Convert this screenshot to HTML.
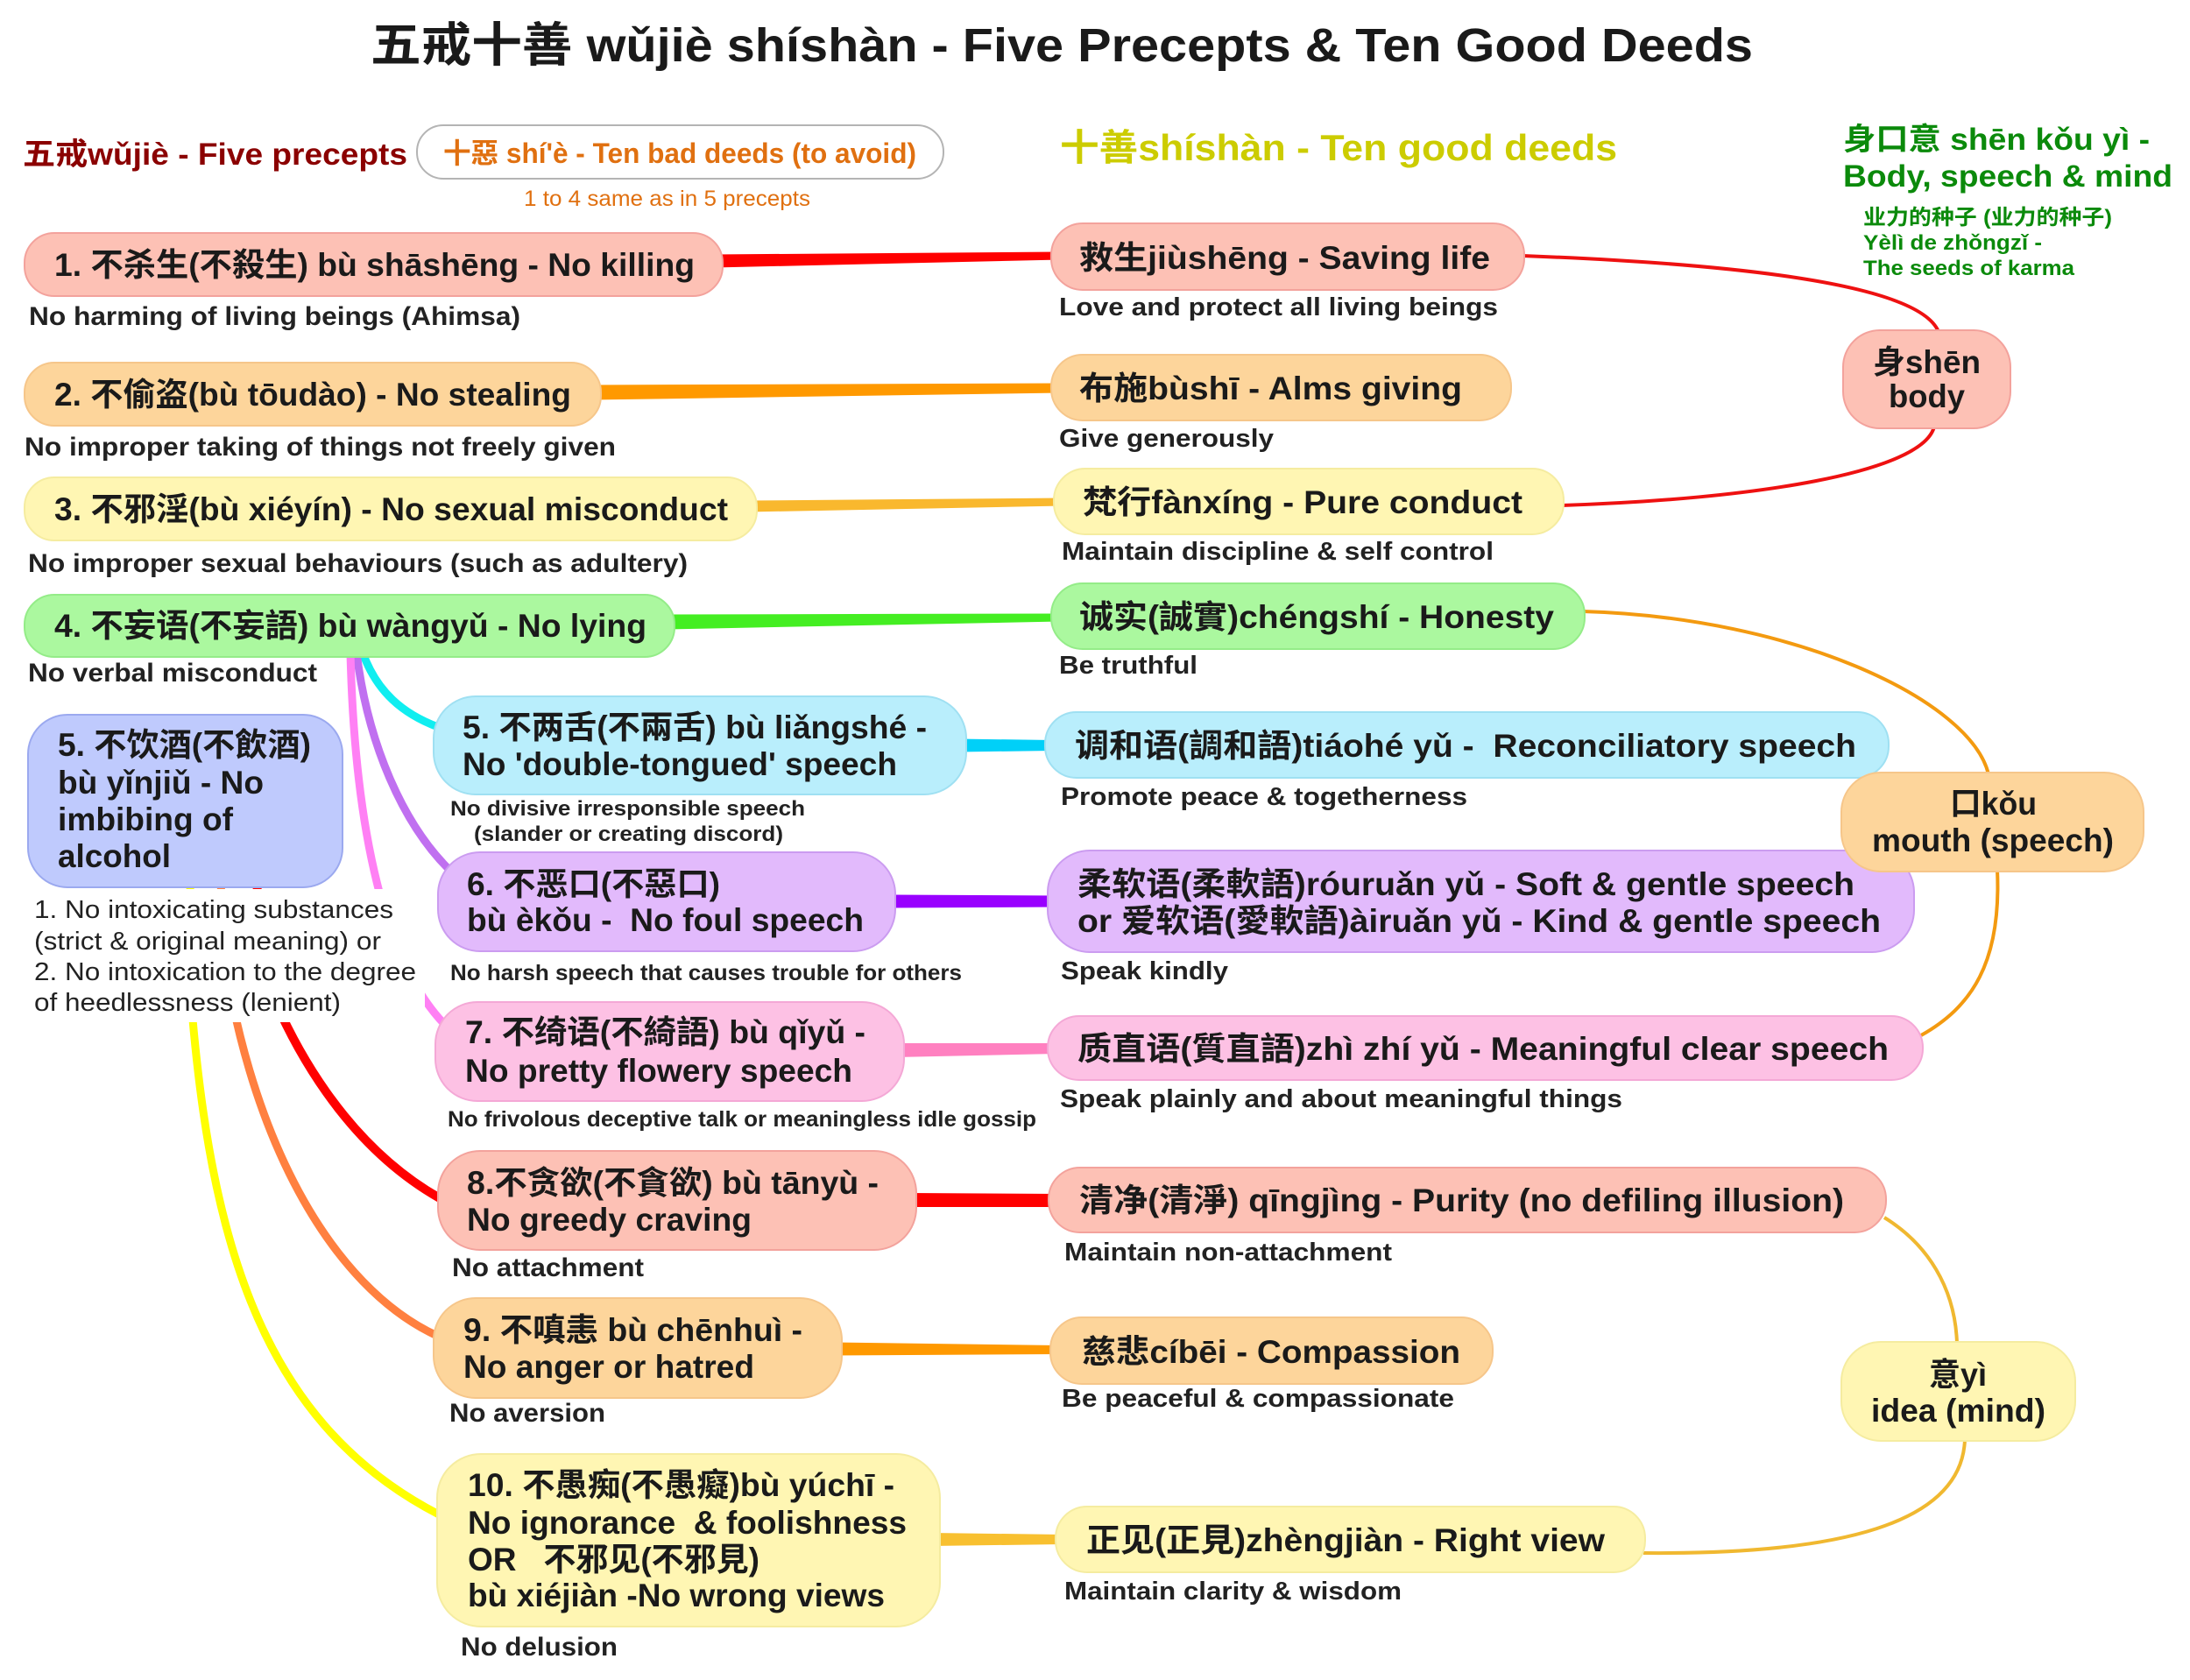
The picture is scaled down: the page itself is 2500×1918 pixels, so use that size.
<!DOCTYPE html>
<html><head><meta charset="utf-8"><style>
html,body{margin:0;padding:0;background:#fff;}
svg{display:block;}
text{font-family:"Liberation Sans","Noto Sans CJK SC",sans-serif;white-space:pre;}
.n{fill:#1a1a1a;font-weight:bold;font-size:37px;}
.d{fill:#222;font-weight:bold;font-size:30px;}
.s{fill:#222;font-weight:bold;font-size:25px;}
.g{fill:#0b8a0b;font-weight:bold;}
</style></head><body>
<svg width="2500" height="1918" viewBox="0 0 2500 1918" xmlns="http://www.w3.org/2000/svg">
<rect width="2500" height="1918" fill="#fff"/>

<!-- curved branches from node 4 -->
<g fill="none" stroke-linecap="round">
<path d="M414,745 C430,790 460,815 500,830" stroke="#10eef0" stroke-width="9"/>
<path d="M407,745 C420,850 460,940 512,992" stroke="#c070f0" stroke-width="9"/>
<path d="M400,745 C405,950 440,1100 508,1170" stroke="#ff80f4" stroke-width="9"/>
<path d="M300,900 L290,1080 C330,1200 400,1310 502,1368" stroke="#ff0000" stroke-width="10"/>
<path d="M260,900 L250,1050 C280,1300 380,1470 499,1525" stroke="#ff8040" stroke-width="9"/>
<path d="M220,900 L215,1100 C235,1400 290,1620 501,1729" stroke="#ffff00" stroke-width="9"/>
</g>

<!-- right thin curves -->
<g fill="none" stroke-width="4">
<path d="M1738,292 C1950,300 2190,320 2213,379" stroke="#ee1111"/>
<path d="M1783,577 C2000,570 2195,540 2208,487" stroke="#ee1111"/>
<path d="M1807,698 C2050,705 2250,800 2270,884" stroke="#f39a10"/>
<path d="M2280,993 C2285,1100 2250,1150 2193,1182" stroke="#f39a10"/>
<path d="M2151,1390 C2200,1420 2232,1470 2234,1534" stroke="#f0b830"/>
<path d="M2243,1643 C2240,1740 2100,1775 1876,1773" stroke="#f0b830"/>
</g>

<!-- straight tapered connectors -->
<polygon points="815,290.5 1210,287.5 1210,296.5 815,305.5" fill="#ff0000"/>
<polygon points="676,439.5 1210,437.5 1210,448.5 676,456.5" fill="#ff9900"/>
<polygon points="854,571.5 1213,568.5 1213,577.5 854,584.5" fill="#f9b82e"/>
<polygon points="760,701.5 1210,700.5 1210,709.5 760,718.5" fill="#44ee22"/>
<polygon points="1093,843.5 1203,845 1203,857 1093,858.5" fill="#00d0f8"/>
<polygon points="1012,1021.5 1206,1022.5 1206,1035.5 1012,1036.5" fill="#9900ff"/>
<polygon points="1022,1191 1206,1191 1206,1203 1022,1207" fill="#ff80c0"/>
<polygon points="1036,1362 1207,1363 1207,1378 1036,1378" fill="#ff0000"/>
<polygon points="951,1532.5 1209,1536 1209,1546 951,1547.5" fill="#ff9900"/>
<polygon points="1063,1750 1215,1752 1215,1763 1063,1765" fill="#f8c030"/>

<!-- nodes -->
<g stroke-width="2">
<rect x="28" y="266" width="797" height="72" rx="34" fill="#fdc1b5" stroke="#f3a29c"/>
<rect x="28" y="414" width="658" height="72" rx="34" fill="#fdd59b" stroke="#f6c68a"/>
<rect x="28" y="545" width="836" height="72" rx="34" fill="#fff6b3" stroke="#f5eca0"/>
<rect x="28" y="679" width="742" height="71" rx="34" fill="#abf89f" stroke="#94ec88"/>
<rect x="32" y="816" width="359" height="197" rx="45" fill="#bfcafd" stroke="#9ba9ef"/>
<rect x="495" y="795" width="608" height="112" rx="48" fill="#b9eefc" stroke="#9fe0f2"/>
<rect x="500" y="973" width="522" height="113" rx="48" fill="#e2bafc" stroke="#cb9cf0"/>
<rect x="497" y="1144" width="535" height="113" rx="48" fill="#fdc1e4" stroke="#f4a8d6"/>
<rect x="500" y="1314" width="546" height="113" rx="48" fill="#fdc1b5" stroke="#f3a29c"/>
<rect x="495" y="1482" width="466" height="114" rx="48" fill="#fdd59b" stroke="#f6c68a"/>
<rect x="499" y="1660" width="574" height="197" rx="50" fill="#fff6b3" stroke="#f5eca0"/>

<rect x="1200" y="255" width="540" height="76" rx="36" fill="#fdc1b5" stroke="#f3a29c"/>
<rect x="1200" y="405" width="525" height="75" rx="36" fill="#fdd59b" stroke="#f6c68a"/>
<rect x="1203" y="535" width="582" height="75" rx="36" fill="#fff6b3" stroke="#f5eca0"/>
<rect x="1200" y="666" width="609" height="75" rx="36" fill="#abf89f" stroke="#94ec88"/>
<rect x="1193" y="813" width="963" height="75" rx="36" fill="#b9eefc" stroke="#9fe0f2"/>
<rect x="1196" y="971" width="989" height="116" rx="48" fill="#e2bafc" stroke="#cb9cf0"/>
<rect x="1196" y="1160" width="999" height="73" rx="36" fill="#fdc1e4" stroke="#f4a8d6"/>
<rect x="1197" y="1333" width="956" height="74" rx="36" fill="#fdc1b5" stroke="#f3a29c"/>
<rect x="1199" y="1504" width="505" height="76" rx="36" fill="#fdd59b" stroke="#f6c68a"/>
<rect x="1205" y="1720" width="673" height="75" rx="36" fill="#fff6b3" stroke="#f5eca0"/>

<rect x="2104" y="377" width="191" height="112" rx="42" fill="#fdc1b5" stroke="#f3a29c"/>
<rect x="2102" y="882" width="345" height="113" rx="45" fill="#fdd59b" stroke="#f6c68a"/>
<rect x="2102" y="1532" width="267" height="113" rx="45" fill="#fff6b3" stroke="#f5eca0"/>

<rect x="476" y="143" width="601" height="61" rx="30" fill="#fff" stroke="#b4b4b4"/>
</g>

<!-- white backing for alcohol note -->
<rect x="35" y="1015" width="450" height="152" fill="#fff"/>

<!-- header -->
<text x="423" y="70" textLength="1578" lengthAdjust="spacingAndGlyphs" style="font-size:54px;font-weight:bold;fill:#1a1a1a">五戒十善 wǔjiè shíshàn - Five Precepts &amp; Ten Good Deeds</text>
<text x="26" y="188" textLength="439" lengthAdjust="spacingAndGlyphs" style="font-size:35px;font-weight:bold;fill:#8b0000">五戒wǔjiè - Five precepts</text>
<text x="506" y="186" textLength="540" lengthAdjust="spacingAndGlyphs" style="font-size:32px;font-weight:bold;fill:#e07010">十惡 shí'è - Ten bad deeds (to avoid)</text>
<text x="598" y="235" textLength="327" lengthAdjust="spacingAndGlyphs" style="font-size:25px;fill:#e07010">1 to 4 same as in 5 precepts</text>
<text x="1210" y="183" textLength="636" lengthAdjust="spacingAndGlyphs" style="font-size:42px;font-weight:bold;fill:#cccc00">十善shíshàn - Ten good deeds</text>
<text class="g" x="2104" y="171" textLength="350" lengthAdjust="spacingAndGlyphs" style="font-size:35px">身口意 shēn kǒu yì -</text>
<text class="g" x="2104" y="213" textLength="376" lengthAdjust="spacingAndGlyphs" style="font-size:35px">Body, speech &amp; mind</text>
<text class="g" x="2127" y="256" textLength="284" lengthAdjust="spacingAndGlyphs" style="font-size:24px">业力的种子 (业力的种子)</text>
<text class="g" x="2127" y="285" textLength="204" lengthAdjust="spacingAndGlyphs" style="font-size:24px">Yèlì de zhǒngzǐ -</text>
<text class="g" x="2127" y="314" textLength="241" lengthAdjust="spacingAndGlyphs" style="font-size:24px">The seeds of karma</text>

<!-- left column -->
<text class="n" x="62" y="315" textLength="731" lengthAdjust="spacingAndGlyphs">1. 不杀生(不殺生) bù shāshēng - No killing</text>
<text class="d" x="33" y="371" textLength="561" lengthAdjust="spacingAndGlyphs">No harming of living beings (Ahimsa)</text>
<text class="n" x="62" y="463" textLength="590" lengthAdjust="spacingAndGlyphs">2. 不偷盗(bù tōudào) - No stealing</text>
<text class="d" x="28" y="520" textLength="675" lengthAdjust="spacingAndGlyphs">No improper taking of things not freely given</text>
<text class="n" x="62" y="594" textLength="769" lengthAdjust="spacingAndGlyphs">3. 不邪淫(bù xiéyín) - No sexual misconduct</text>
<text class="d" x="32" y="653" textLength="753" lengthAdjust="spacingAndGlyphs">No improper sexual behaviours (such as adultery)</text>
<text class="n" x="62" y="727" textLength="676" lengthAdjust="spacingAndGlyphs">4. 不妄语(不妄語) bù wàngyǔ - No lying</text>
<text class="d" x="32" y="778" textLength="330" lengthAdjust="spacingAndGlyphs">No verbal misconduct</text>

<text class="n" x="66" y="863" textLength="289" lengthAdjust="spacingAndGlyphs">5. 不饮酒(不飲酒)</text>
<text class="n" x="66" y="906" textLength="235" lengthAdjust="spacingAndGlyphs">bù yǐnjiǔ - No</text>
<text class="n" x="66" y="948" textLength="200" lengthAdjust="spacingAndGlyphs">imbibing of</text>
<text class="n" x="66" y="990" textLength="129" lengthAdjust="spacingAndGlyphs">alcohol</text>

<g style="font-size:29px;fill:#222">
<text x="39" y="1048" textLength="410" lengthAdjust="spacingAndGlyphs">1. No intoxicating substances</text>
<text x="39" y="1084" textLength="396" lengthAdjust="spacingAndGlyphs">(strict &amp; original meaning) or</text>
<text x="39" y="1119" textLength="436" lengthAdjust="spacingAndGlyphs">2. No intoxication to the degree</text>
<text x="39" y="1154" textLength="350" lengthAdjust="spacingAndGlyphs">of heedlessness (lenient)</text>
</g>

<text class="n" x="528" y="843" textLength="530" lengthAdjust="spacingAndGlyphs">5. 不两舌(不兩舌) bù liǎngshé -</text>
<text class="n" x="528" y="885" textLength="496" lengthAdjust="spacingAndGlyphs">No 'double-tongued' speech</text>
<text class="s" x="514" y="931" textLength="405" lengthAdjust="spacingAndGlyphs" style="font-size:24px">No divisive irresponsible speech</text>
<text class="s" x="541" y="960" textLength="353" lengthAdjust="spacingAndGlyphs" style="font-size:24px">(slander or creating discord)</text>

<text class="n" x="533" y="1022" textLength="289" lengthAdjust="spacingAndGlyphs">6. 不恶口(不惡口)</text>
<text class="n" x="533" y="1063" textLength="453" lengthAdjust="spacingAndGlyphs">bù èkǒu -  No foul speech</text>
<text class="s" x="514" y="1119" textLength="584" lengthAdjust="spacingAndGlyphs">No harsh speech that causes trouble for others</text>

<text class="n" x="531" y="1191" textLength="457" lengthAdjust="spacingAndGlyphs">7. 不绮语(不綺語) bù qǐyǔ -</text>
<text class="n" x="531" y="1235" textLength="442" lengthAdjust="spacingAndGlyphs">No pretty flowery speech</text>
<text class="s" x="511" y="1286" textLength="672" lengthAdjust="spacingAndGlyphs">No frivolous deceptive talk or meaningless idle gossip</text>

<text class="n" x="533" y="1363" textLength="470" lengthAdjust="spacingAndGlyphs">8.不贪欲(不貪欲) bù tānyù -</text>
<text class="n" x="533" y="1405" textLength="325" lengthAdjust="spacingAndGlyphs">No greedy craving</text>
<text class="d" x="516" y="1457" textLength="219" lengthAdjust="spacingAndGlyphs">No attachment</text>

<text class="n" x="529" y="1531" textLength="387" lengthAdjust="spacingAndGlyphs">9. 不嗔恚 bù chēnhuì -</text>
<text class="n" x="529" y="1573" textLength="332" lengthAdjust="spacingAndGlyphs">No anger or hatred</text>
<text class="d" x="513" y="1623" textLength="178" lengthAdjust="spacingAndGlyphs">No aversion</text>

<text class="n" x="534" y="1708" textLength="487" lengthAdjust="spacingAndGlyphs">10. 不愚痴(不愚癡)bù yúchī -</text>
<text class="n" x="534" y="1751" textLength="501" lengthAdjust="spacingAndGlyphs">No ignorance  &amp; foolishness</text>
<text class="n" x="534" y="1793" textLength="333" lengthAdjust="spacingAndGlyphs">OR   不邪见(不邪見)</text>
<text class="n" x="534" y="1834" textLength="476" lengthAdjust="spacingAndGlyphs">bù xiéjiàn -No wrong views</text>
<text class="d" x="526" y="1890" textLength="179" lengthAdjust="spacingAndGlyphs">No delusion</text>

<!-- right column -->
<text class="n" x="1232" y="307" textLength="469" lengthAdjust="spacingAndGlyphs">救生jiùshēng - Saving life</text>
<text class="d" x="1209" y="360" textLength="501" lengthAdjust="spacingAndGlyphs" style="font-size:29px">Love and protect all living beings</text>
<text class="n" x="1232" y="456" textLength="437" lengthAdjust="spacingAndGlyphs">布施bùshī - Alms giving</text>
<text class="d" x="1209" y="510" textLength="245" lengthAdjust="spacingAndGlyphs" style="font-size:29px">Give generously</text>
<text class="n" x="1236" y="586" textLength="502" lengthAdjust="spacingAndGlyphs">梵行fànxíng - Pure conduct</text>
<text class="d" x="1212" y="639" textLength="493" lengthAdjust="spacingAndGlyphs" style="font-size:29px">Maintain discipline &amp; self control</text>
<text class="n" x="1232" y="717" textLength="542" lengthAdjust="spacingAndGlyphs">诚实(誠實)chéngshí - Honesty</text>
<text class="d" x="1209" y="769" textLength="158" lengthAdjust="spacingAndGlyphs" style="font-size:29px">Be truthful</text>

<text class="n" x="1227" y="864" textLength="892" lengthAdjust="spacingAndGlyphs">调和语(調和語)tiáohé yǔ -  Reconciliatory speech</text>
<text class="d" x="1211" y="919" textLength="464" lengthAdjust="spacingAndGlyphs" style="font-size:29px">Promote peace &amp; togetherness</text>
<text class="n" x="1230" y="1022" textLength="887" lengthAdjust="spacingAndGlyphs">柔软语(柔軟語)róuruǎn yǔ - Soft &amp; gentle speech</text>
<text class="n" x="1230" y="1064" textLength="917" lengthAdjust="spacingAndGlyphs">or 爱软语(愛軟語)àiruǎn yǔ - Kind &amp; gentle speech</text>
<text class="d" x="1211" y="1118" textLength="191" lengthAdjust="spacingAndGlyphs" style="font-size:29px">Speak kindly</text>
<text class="n" x="1230" y="1210" textLength="926" lengthAdjust="spacingAndGlyphs">质直语(質直語)zhì zhí yǔ - Meaningful clear speech</text>
<text class="d" x="1210" y="1264" textLength="642" lengthAdjust="spacingAndGlyphs" style="font-size:29px">Speak plainly and about meaningful things</text>
<text class="n" x="1232" y="1383" textLength="873" lengthAdjust="spacingAndGlyphs">清净(清淨) qīngjìng - Purity (no defiling illusion)</text>
<text class="d" x="1215" y="1439" textLength="374" lengthAdjust="spacingAndGlyphs" style="font-size:29px">Maintain non-attachment</text>
<text class="n" x="1235" y="1556" textLength="432" lengthAdjust="spacingAndGlyphs">慈悲cíbēi - Compassion</text>
<text class="d" x="1212" y="1606" textLength="448" lengthAdjust="spacingAndGlyphs" style="font-size:29px">Be peaceful &amp; compassionate</text>
<text class="n" x="1240" y="1771" textLength="592" lengthAdjust="spacingAndGlyphs">正见(正見)zhèngjiàn - Right view</text>
<text class="d" x="1215" y="1826" textLength="385" lengthAdjust="spacingAndGlyphs" style="font-size:29px">Maintain clarity &amp; wisdom</text>

<!-- body / mouth / mind -->
<text class="n" x="2138" y="426" textLength="123" lengthAdjust="spacingAndGlyphs">身shēn</text>
<text class="n" x="2156" y="465" textLength="87" lengthAdjust="spacingAndGlyphs">body</text>
<text class="n" x="2226" y="930" textLength="99" lengthAdjust="spacingAndGlyphs">口kǒu</text>
<text class="n" x="2137" y="972" textLength="276" lengthAdjust="spacingAndGlyphs">mouth (speech)</text>
<text class="n" x="2202" y="1582" textLength="66" lengthAdjust="spacingAndGlyphs">意yì</text>
<text class="n" x="2136" y="1623" textLength="199" lengthAdjust="spacingAndGlyphs">idea (mind)</text>
</svg>
</body></html>
